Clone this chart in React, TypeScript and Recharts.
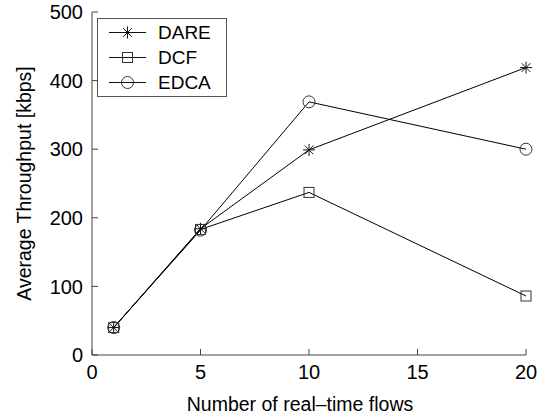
import React from "react";
import { Line, LineChart, XAxis, YAxis } from "recharts";

// x positions (number of real-time flows)
const flows = [1, 5, 10, 20];
// average throughput [kbps] per scheme
const dareValues = [40, 184, 299, 419];
const dcfValues = [40, 183, 237, 86];
const edcaValues = [40, 182, 369, 300];

const xTicks = [0, 5, 10, 15, 20];
const yTicks = [0, 100, 200, 300, 400, 500];

const data = flows.map((f, i) => ({
  flows: f,
  DARE: dareValues[i],
  DCF: dcfValues[i],
  EDCA: edcaValues[i],
}));

const FONT = "'Liberation Sans', Arial, Helvetica, sans-serif";
const MARK = "#333";

interface DotProps {
  cx?: number;
  cy?: number;
}

const StarDot: React.FC<DotProps> = ({ cx, cy }) => {
  if (cx === undefined || cy === undefined) return null;
  const r = 6;
  const d = r * 0.72;
  return (
    <g stroke="#111" strokeWidth={1}>
      <line x1={cx - r} y1={cy} x2={cx + r} y2={cy} />
      <line x1={cx} y1={cy - r} x2={cx} y2={cy + r} />
      <line x1={cx - d} y1={cy - d} x2={cx + d} y2={cy + d} />
      <line x1={cx - d} y1={cy + d} x2={cx + d} y2={cy - d} />
    </g>
  );
};

const SquareDot: React.FC<DotProps> = ({ cx, cy }) => {
  if (cx === undefined || cy === undefined) return null;
  const s = 5;
  return (
    <rect
      x={cx - s}
      y={cy - s}
      width={s * 2}
      height={s * 2}
      fill="none"
      stroke={MARK}
      strokeWidth={1}
    />
  );
};

const CircleDot: React.FC<DotProps> = ({ cx, cy }) => {
  if (cx === undefined || cy === undefined) return null;
  return <circle cx={cx} cy={cy} r={6} fill="none" stroke={MARK} strokeWidth={1} />;
};

const legendItems = [
  { name: "DARE", Dot: StarDot },
  { name: "DCF", Dot: SquareDot },
  { name: "EDCA", Dot: CircleDot },
];

// drawn over the chart, like the boxed legend of the original figure
const LegendBox = () => (
  <div
    style={{
      position: "absolute",
      left: 97,
      top: 18,
      width: 128,
      padding: "1px 0",
      border: "1px solid #555",
      background: "#fff",
      fontFamily: FONT,
      fontSize: 19,
      color: "#000",
    }}
  >
    {legendItems.map(({ name, Dot }) => (
      <div key={name} style={{ display: "flex", alignItems: "center", height: 25 }}>
        <svg width={60} height={25}>
          <line x1={11} y1={12.5} x2={48} y2={12.5} stroke="#111" strokeWidth={1} />
          <Dot cx={29.5} cy={12.5} />
        </svg>
        <span>{name}</span>
      </div>
    ))}
  </div>
);

const App = () => {
  return (
    <div
      style={{
        position: "absolute",
        left: 0,
        top: 0,
        width: 545,
        height: 420,
        background: "#fff",
      }}
    >
      <LineChart
        width={545}
        height={420}
        data={data}
        margin={{ top: 12, right: 19, left: 0, bottom: 0 }}
      >
        <XAxis
          dataKey="flows"
          type="number"
          domain={[0, 20]}
          ticks={xTicks}
          tickSize={-6}
          tickMargin={16}
          height={65}
          stroke="#444"
          tick={{ fill: "#000", fontSize: 20, fontFamily: FONT }}
          label={{
            value: "Number of real\u2013time flows",
            position: "insideBottom",
            offset: 9,
            dx: -9,
            fill: "#000",
            fontSize: 19.5,
            fontFamily: FONT,
          }}
        />
        <XAxis
          xAxisId="top"
          orientation="top"
          type="number"
          domain={[0, 20]}
          ticks={xTicks}
          tickSize={-6}
          height={0}
          stroke="#444"
          tickFormatter={() => ""}
        />
        <YAxis
          type="number"
          domain={[0, 500]}
          ticks={yTicks}
          tickSize={-6}
          tickMargin={15}
          width={92}
          stroke="#444"
          tick={{ fill: "#000", fontSize: 20, fontFamily: FONT }}
          label={{
            value: "Average Throughput [kbps]",
            angle: -90,
            position: "insideLeft",
            offset: 24,
            style: { textAnchor: "middle" },
            fill: "#000",
            fontSize: 19.5,
            fontFamily: FONT,
          }}
        />
        <YAxis
          yAxisId="right"
          orientation="right"
          type="number"
          domain={[0, 500]}
          ticks={yTicks}
          tickSize={-6}
          width={0}
          stroke="#444"
          tickFormatter={() => ""}
        />
        <Line
          dataKey="DARE"
          stroke="#000"
          strokeWidth={1}
          dot={<StarDot />}
          isAnimationActive={false}
        />
        <Line
          dataKey="DCF"
          stroke="#000"
          strokeWidth={1}
          dot={<SquareDot />}
          isAnimationActive={false}
        />
        <Line
          dataKey="EDCA"
          stroke="#000"
          strokeWidth={1}
          dot={<CircleDot />}
          isAnimationActive={false}
        />
      </LineChart>
      <LegendBox />
    </div>
  );
};

export default App;
